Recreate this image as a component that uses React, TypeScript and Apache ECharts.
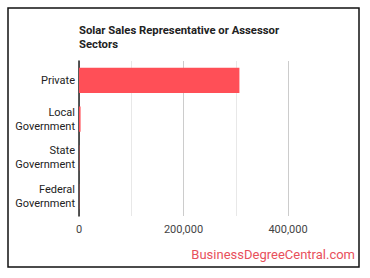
import React, { useEffect, useRef } from "react";
import * as echarts from "echarts";

const titleText = "Solar Sales Representative or Assessor\nSectors";
const categories = ["Private", "Local\nGovernment", "State\nGovernment", "Federal\nGovernment"];
const values = [307000, 3000, 600, 400];
const xTickLabels = ["0", "200,000", "400,000"];
const watermark = "BusinessDegreeCentral.com";

export default function App() {
  const ref = useRef<HTMLDivElement>(null);
  useEffect(() => {
    if (!ref.current) return;
    const chart = echarts.init(ref.current, undefined, { renderer: "svg" });
    chart.setOption({
      animation: false,
      backgroundColor: "#ffffff",
      textStyle: { fontFamily: "Roboto" },
      title: {
        text: titleText,
        left: 74,
        top: 18,
        textStyle: { fontSize: 11.3, fontWeight: "bold", color: "#222", lineHeight: 14, fontFamily: "Roboto" },
      },
      grid: { left: 79, right: 82, top: 61, bottom: 62, containLabel: false },
      xAxis: {
        type: "value",
        min: 0,
        max: 400000,
        interval: 200000,
        axisLine: { show: false },
        axisTick: { show: false },
        axisLabel: {
          color: "#444",
          fontSize: 11,
          margin: 8,
          formatter: (v: number) => xTickLabels[Math.round(v / 200000)] ?? "",
        },
        splitLine: { show: true, lineStyle: { color: "#cccccc", width: 1 } },
        minorTick: { show: false, splitNumber: 2 },
        minorSplitLine: { show: true, lineStyle: { color: "#e8e8e8", width: 1 } },
      },
      yAxis: {
        type: "category",
        data: categories,
        inverse: true,
        axisLine: { show: true, lineStyle: { color: "#222", width: 1.5 } },
        axisTick: { show: false },
        axisLabel: { color: "#222", fontSize: 11, lineHeight: 14, margin: 4, align: "right" },
      },
      series: [
        {
          type: "bar",
          data: values,
          barCategoryGap: "35%",
          itemStyle: { color: "#ff4f57" },
        },
      ],
      graphic: [
        {
          type: "rect",
          shape: { x: 8, y: 8, width: 351, height: 259 },
          style: { fill: "none", stroke: "#111", lineWidth: 1.5 },
          silent: true,
        },
        {
          type: "text",
          right: 15,
          top: 248,
          style: { text: watermark, fill: "#e8505b", fontSize: 13, fontFamily: "Roboto" },
        },
      ],
    });
    return () => chart.dispose();
  }, []);
  return (
    <div
      ref={ref}
      style={{ position: "absolute", left: 0, top: 0, width: 370, height: 278 }}
    />
  );
}
